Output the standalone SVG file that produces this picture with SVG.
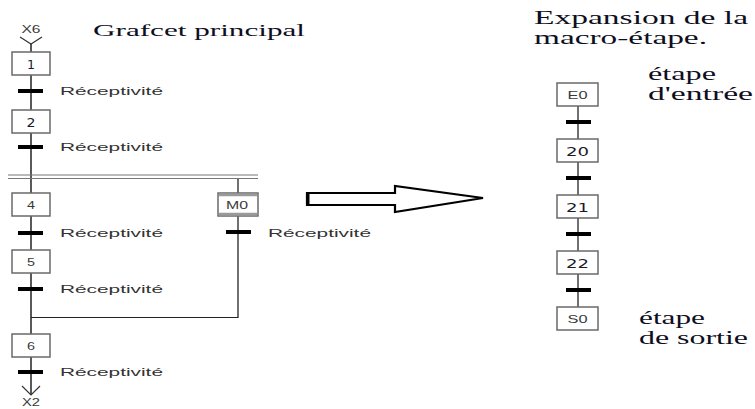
<svg xmlns="http://www.w3.org/2000/svg" width="755" height="409" viewBox="0 0 755 409">
  <style>
    .bg { fill: #ffffff; }
    .step { fill: #ffffff; stroke: #6a6a6a; stroke-width: 1.5; }
    .link { fill: none; stroke: #222222; stroke-width: 1.5; }
    .glink { fill: none; stroke: #707070; stroke-width: 2; }
    .trans { fill: #000000; }
    .rec { font-family: "Liberation Sans", Arial, sans-serif; font-size: 11px; fill: #333333; }
    .num { font-family: "DejaVu Sans", sans-serif; font-size: 13px; fill: #1a1a2a; text-anchor: middle; }
    .lbl { font-family: "Liberation Sans", Arial, sans-serif; font-size: 11px; fill: #3a3a3a; text-anchor: middle; }
    .title { font-family: "Liberation Serif", "Times New Roman", serif; fill: #0e0e22; }
    .chev { fill: none; stroke: #333333; stroke-width: 1.2; }
  </style>

  <rect class="bg" x="0" y="0" width="755" height="409"/>

  <!-- headings -->
  <text class="title" x="93" y="36" font-size="17.5" textLength="212" lengthAdjust="spacingAndGlyphs">Grafcet principal</text>
  <text class="title" x="534" y="24" font-size="19" textLength="214" lengthAdjust="spacingAndGlyphs">Expansion de la</text>
  <text class="title" x="534" y="44" font-size="19" textLength="173" lengthAdjust="spacingAndGlyphs">macro-étape.</text>

  <!-- connectors -->
  <g id="connectors">
    <!-- main sequence -->
    <line class="link" x1="31" y1="44" x2="31" y2="395"/>
    <polyline class="chev" points="20,37 31,44 42,37"/>
    <polyline class="chev" points="22,386 31,395 40,386"/>
    <!-- simultaneous divergence (double line) -->
    <line x1="8" y1="175" x2="258" y2="175" stroke="#777777" stroke-width="1.2"/>
    <line x1="8" y1="178.5" x2="258" y2="178.5" stroke="#777777" stroke-width="1.2"/>
    <!-- macro-step branch -->
    <line class="glink" x1="238" y1="178" x2="238" y2="318"/>
    <line x1="31" y1="317.5" x2="238" y2="317.5" stroke="#222222" stroke-width="1.2"/>
    <!-- expansion sequence -->
    <line class="glink" x1="578" y1="105" x2="578" y2="308"/>
    <!-- transitions -->
    <rect class="trans" x="18" y="89" width="25" height="4"/>
    <rect class="trans" x="18" y="145" width="25" height="4"/>
    <rect class="trans" x="18" y="231" width="25" height="4"/>
    <rect class="trans" x="18" y="287" width="25" height="4"/>
    <rect class="trans" x="18" y="370" width="25" height="4"/>
    <rect class="trans" x="226" y="230" width="25" height="4"/>
    <rect class="trans" x="566" y="120" width="25" height="4"/>
    <rect class="trans" x="566" y="176" width="25" height="4"/>
    <rect class="trans" x="566" y="232" width="25" height="4"/>
    <rect class="trans" x="566" y="288" width="25" height="4"/>
    <!-- expansion arrow -->
    <polygon points="307,193 395,193 395,186 483,198 395,212 395,205 307,205" fill="#ffffff" stroke="#000000" stroke-width="2.2" stroke-linejoin="miter"/>
    <line x1="308" y1="192" x2="308" y2="206" stroke="#000000" stroke-width="3"/>
  </g>

  <!-- receptivity labels -->
  <text class="rec" x="60" y="95" textLength="103" lengthAdjust="spacingAndGlyphs">Réceptivité</text>
  <text class="rec" x="60" y="151" textLength="103" lengthAdjust="spacingAndGlyphs">Réceptivité</text>
  <text class="rec" x="60" y="237" textLength="103" lengthAdjust="spacingAndGlyphs">Réceptivité</text>
  <text class="rec" x="60" y="293" textLength="103" lengthAdjust="spacingAndGlyphs">Réceptivité</text>
  <text class="rec" x="60" y="376" textLength="103" lengthAdjust="spacingAndGlyphs">Réceptivité</text>
  <text class="rec" x="268" y="237" textLength="103" lengthAdjust="spacingAndGlyphs">Réceptivité</text>

  <!-- step references -->
  <text class="lbl" x="31" y="33" font-size="8" textLength="19" lengthAdjust="spacingAndGlyphs">X6</text>
  <text class="lbl" x="31" y="406" font-size="7.5" textLength="18" lengthAdjust="spacingAndGlyphs">X2</text>

  <!-- main grafcet steps -->
  <g id="step1">
    <rect class="step" x="12" y="52" width="38" height="23"/>
    <text class="num" x="31" y="68.5" textLength="8" lengthAdjust="spacingAndGlyphs">1</text>
  </g>
  <g id="step2">
    <rect class="step" x="12" y="110" width="38" height="23"/>
    <text class="num" x="31" y="126.5" textLength="9" lengthAdjust="spacingAndGlyphs">2</text>
  </g>
  <g id="step4">
    <rect class="step" x="12" y="193" width="38" height="23"/>
    <text class="lbl" x="31" y="208.5" textLength="8" lengthAdjust="spacingAndGlyphs">4</text>
  </g>
  <g id="step5">
    <rect class="step" x="12" y="250" width="38" height="23"/>
    <text class="lbl" x="31" y="265.5" textLength="8" lengthAdjust="spacingAndGlyphs">5</text>
  </g>
  <g id="step6">
    <rect class="step" x="12" y="334" width="38" height="23"/>
    <text class="lbl" x="31" y="349.5" textLength="8" lengthAdjust="spacingAndGlyphs">6</text>
  </g>
  <g id="macroM0">
    <rect class="step" x="218" y="193" width="40" height="23"/>
    <line x1="219" y1="195" x2="257" y2="195" stroke="#9a9a9a" stroke-width="2.5"/>
    <line x1="219" y1="214" x2="257" y2="214" stroke="#9a9a9a" stroke-width="2.5"/>
    <text class="lbl" x="237" y="208.5" font-size="10" textLength="22" lengthAdjust="spacingAndGlyphs">M0</text>
  </g>

  <!-- macro-step expansion -->
  <g id="stepE0">
    <rect class="step" x="557" y="83" width="41" height="23"/>
    <text class="lbl" x="577.5" y="98.5" textLength="20" lengthAdjust="spacingAndGlyphs">E0</text>
  </g>
  <g id="step20">
    <rect class="step" x="557" y="139" width="41" height="23"/>
    <text class="num" x="577.5" y="155.5" textLength="23" lengthAdjust="spacingAndGlyphs">20</text>
  </g>
  <g id="step21">
    <rect class="step" x="557" y="195" width="41" height="23"/>
    <text class="num" x="577.5" y="211.5" textLength="23" lengthAdjust="spacingAndGlyphs">21</text>
  </g>
  <g id="step22">
    <rect class="step" x="557" y="251" width="41" height="23"/>
    <text class="num" x="577.5" y="267.5" textLength="23" lengthAdjust="spacingAndGlyphs">22</text>
  </g>
  <g id="stepS0">
    <rect class="step" x="557" y="307" width="41" height="23"/>
    <text class="lbl" x="577.5" y="322.5" textLength="20" lengthAdjust="spacingAndGlyphs">S0</text>
  </g>

  <!-- expansion notes -->
  <text class="title" x="648" y="80" font-size="18" textLength="68" lengthAdjust="spacingAndGlyphs">étape</text>
  <text class="title" x="648" y="100" font-size="18" textLength="105" lengthAdjust="spacingAndGlyphs">d'entrée</text>
  <text class="title" x="639" y="324" font-size="18" textLength="66" lengthAdjust="spacingAndGlyphs">étape</text>
  <text class="title" x="639" y="344" font-size="18" textLength="109" lengthAdjust="spacingAndGlyphs">de sortie</text>
</svg>
